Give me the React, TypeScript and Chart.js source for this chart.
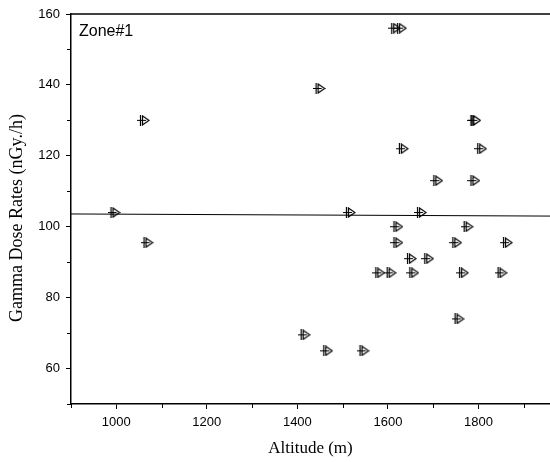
import React, { useEffect, useRef } from "react";
import { Chart, registerables } from "chart.js";

Chart.register(...registerables);

const altitudes = [
  995, 1060, 1068, 1415, 1448, 1465, 1515, 1545, 1580, 1605,
  1615, 1628, 1620, 1620, 1632, 1650, 1655, 1672, 1688, 1708,
  1750, 1755, 1765, 1775, 1790, 1792, 1790, 1805, 1850, 1862,
];
const doseRates = [
  104, 130, 95.5, 69.5, 139, 65, 104, 65, 87, 87,
  156, 156, 100, 95.5, 122, 91, 87, 104, 91, 113,
  95.5, 74, 87, 100, 130, 130, 113, 122, 87, 95.5,
];
const fitX = [900, 1958];
const fitY = [103.6, 103.0];
const xMajorTicks = [1000, 1200, 1400, 1600, 1800];
const yMajorTicks = [60, 80, 100, 120, 140, 160];
const xMinorTicks = [900, 1100, 1300, 1500, 1700, 1900];
const yMinorTicks = [50, 70, 90, 110, 130, 150];
const zoneLabel = "Zone#1";
const yTitle = "Gamma Dose Rates (nGy./h)";
const xTitle = "Altitude (m)";

function makeMarker(): HTMLCanvasElement {
  const c = document.createElement("canvas");
  c.width = 13;
  c.height = 11;
  const g = c.getContext("2d")!;
  g.lineWidth = 1.2;
  g.strokeStyle = "#000";
  g.fillStyle = "#fff";
  g.beginPath();
  g.moveTo(5.5, 1);
  g.lineTo(5.5, 10);
  g.lineTo(12, 5.5);
  g.closePath();
  g.fill();
  g.stroke();
  g.beginPath();
  g.moveTo(3.5, 0);
  g.lineTo(3.5, 11);
  g.moveTo(0, 5.5);
  g.lineTo(9, 5.5);
  g.stroke();
  return c;
}

const framePlugin = {
  id: "frame",
  afterDraw(chart: any) {
    const { ctx, chartArea, scales } = chart;
    ctx.save();
    ctx.strokeStyle = "#000";
    ctx.lineWidth = 1.5;
    ctx.beginPath();
    ctx.moveTo(chartArea.left, chartArea.top);
    ctx.lineTo(chart.width, chartArea.top);
    ctx.stroke();
    ctx.lineWidth = 1;
    ctx.beginPath();
    xMinorTicks.forEach((v) => {
      const px = Math.round(scales.x.getPixelForValue(v)) + 0.5;
      ctx.moveTo(px, chartArea.bottom);
      ctx.lineTo(px, chartArea.bottom + 4);
    });
    yMinorTicks.forEach((v) => {
      const py = Math.round(scales.y.getPixelForValue(v)) + 0.5;
      ctx.moveTo(chartArea.left, py);
      ctx.lineTo(chartArea.left - 4, py);
    });
    ctx.stroke();
    ctx.fillStyle = "#000";
    ctx.font = "16px 'Liberation Sans', Arial, sans-serif";
    ctx.textBaseline = "alphabetic";
    ctx.textAlign = "left";
    ctx.fillText(zoneLabel, chartArea.left + 8, chartArea.top + 22);
    // y axis title
    ctx.font = "18px 'Liberation Serif', 'Times New Roman', serif";
    ctx.textAlign = "center";
    ctx.textBaseline = "middle";
    ctx.translate(17, 218);
    ctx.rotate(-Math.PI / 2);
    ctx.fillText(yTitle, 0, 0);
    ctx.restore();
  },
};

export default function App() {
  const ref = useRef<HTMLCanvasElement>(null);
  useEffect(() => {
    const marker = makeMarker();
    const chart = new Chart(ref.current!, {
      type: "scatter",
      data: {
        datasets: [
          {
            type: "line",
            data: fitX.map((x, i) => ({ x, y: fitY[i] })),
            borderColor: "#000",
            borderWidth: 1,
            pointRadius: 0,
            fill: false,
          } as any,
          {
            data: altitudes.map((x, i) => ({ x, y: doseRates[i] })),
            pointStyle: marker as any,
            pointRadius: 6,
          },
        ],
      },
      options: {
        animation: false,
        responsive: false,
        layout: { autoPadding: false, padding: { top: 14, right: 0, left: 0, bottom: 0 } },
        plugins: { legend: { display: false }, tooltip: { enabled: false } },
        scales: {
          x: {
            type: "linear",
            min: 900,
            max: 1958,
            afterBuildTicks: (s: any) => {
              s.ticks = xMajorTicks.map((v) => ({ value: v }));
            },
            afterFit: (s: any) => {
              s.height = 58;
            },
            grid: {
              drawOnChartArea: false,
              drawTicks: true,
              tickLength: 5,
              tickColor: "#000",
              tickWidth: 1,
            },
            border: { color: "#000", width: 1.5 },
            ticks: {
              color: "#000",
              padding: 6,
              maxRotation: 0,
              callback: (v: any) => String(v),
              font: { family: "'Liberation Sans', Arial, sans-serif", size: 13 },
            },
            title: {
              display: true,
              text: xTitle,
              color: "#000",
              padding: { top: 0, bottom: 3 },
              font: { family: "'Liberation Serif', 'Times New Roman', serif", size: 17 },
            },
          },
          y: {
            type: "linear",
            min: 50,
            max: 160,
            afterBuildTicks: (s: any) => {
              s.ticks = yMajorTicks.map((v) => ({ value: v }));
            },
            afterFit: (s: any) => {
              s.width = 71;
            },
            grid: {
              drawOnChartArea: false,
              drawTicks: true,
              tickLength: 5,
              tickColor: "#000",
              tickWidth: 1,
            },
            border: { color: "#000", width: 1.5 },
            ticks: {
              color: "#000",
              padding: 6,
              callback: (v: any) => String(v),
              font: { family: "'Liberation Sans', Arial, sans-serif", size: 13 },
            },
          },
        },
      },
      plugins: [framePlugin],
    });
    return () => chart.destroy();
  }, []);
  return (
    <div style={{ position: "fixed", left: 0, top: 0, width: 550, height: 462, background: "#fff" }}>
      <canvas ref={ref} width={550} height={462} style={{ display: "block" }} />
    </div>
  );
}
